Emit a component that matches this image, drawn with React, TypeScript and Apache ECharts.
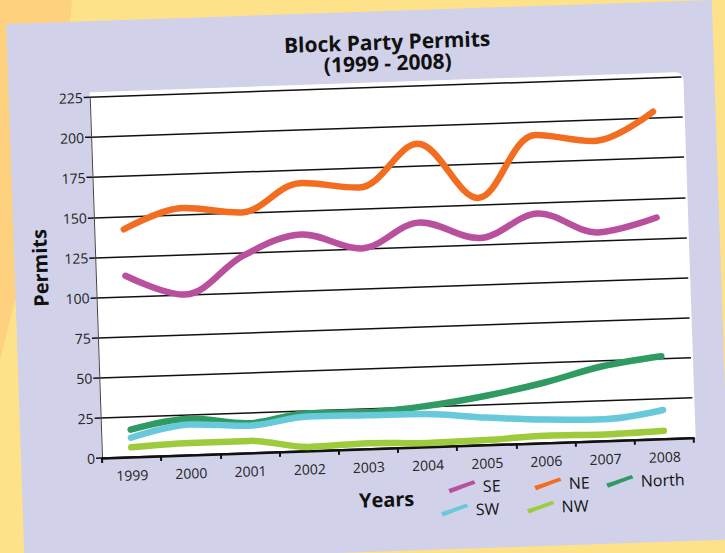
import React, { useEffect, useRef } from "react";
import * as echarts from "echarts";

const years = ["1999", "2000", "2001", "2002", "2003", "2004", "2005", "2006", "2007", "2008"];
const seData = [113, 100, 123, 135, 125, 140, 129, 143, 130, 138];
const neData = [142, 154, 150, 167, 163, 189, 154, 192, 187, 204];
const northData = [17, 22.5, 18.5, 23.5, 23, 25.5, 30.5, 37.5, 46.5, 51.5];
const swData = [12, 19, 17, 21.5, 21, 20.5, 17, 14.5, 13.5, 18];
const nwData = [6, 7.5, 7.5, 2.5, 3.5, 2.5, 3, 4.5, 4, 5];
const yMin = 0;
const yMax = 225;
const yStep = 25;

const FONT = "'Open Sans', 'DejaVu Sans', sans-serif";
const COLORS: Record<string, string> = {
  SE: "#B9509E",
  NE: "#F36D21",
  North: "#2F9A62",
  SW: "#68C9DA",
  NW: "#9DCB3B",
};
const BRUSH = "path://M0,9 C9,7 20,3 30,0 L32,4 C22,7 11,11 2,14 Z";

export default function App() {
  const ref = useRef<HTMLDivElement>(null);
  useEffect(() => {
    if (!ref.current) return;
    const chart = echarts.init(ref.current, undefined, { renderer: "svg" });
    const mkSeries = (name: string, data: number[]) => ({
      name,
      type: "line",
      data,
      smooth: 0.35,
      showSymbol: false,
      symbol: "none",
      lineStyle: { color: COLORS[name], width: 6.5, cap: "round", join: "round" },
      itemStyle: { color: COLORS[name] },
    });
    const legendBase = {
      icon: BRUSH,
      itemWidth: 32,
      itemHeight: 12,
      itemGap: 0,
      padding: 0,
      selectedMode: false,
      textStyle: { fontFamily: FONT, fontSize: 16, fontWeight: 500, color: "#111" },
    };
    chart.setOption({
      animation: false,
      backgroundColor: "transparent",
      title: {
        text: "Block Party Permits\n(1999 - 2008)",
        left: 390,
        top: 27,
        textAlign: "center",
        textStyle: { fontFamily: FONT, fontSize: 21, fontWeight: "bold", color: "#111", lineHeight: 21 },
      },
      legend: [
        { ...legendBase, data: ["SE"], left: 441, top: 482 },
        { ...legendBase, data: ["NE"], left: 527, top: 482 },
        { ...legendBase, data: ["North"], left: 599, top: 482 },
        { ...legendBase, data: ["SW"], left: 433, top: 505 },
        { ...legendBase, data: ["NW"], left: 519, top: 505 },
      ],
      grid: { left: 96, right: 37, top: 88, bottom: 104, containLabel: false },
      xAxis: {
        type: "category",
        data: years,
        boundaryGap: true,
        axisLine: { show: true, lineStyle: { color: "#111", width: 2.5 } },
        axisTick: { show: true, length: 5, interval: 0, lineStyle: { color: "#111", width: 2 } },
        axisLabel: { interval: 0, margin: 11, fontFamily: FONT, fontSize: 14, color: "#222" },
        splitLine: { show: false },
      },
      yAxis: {
        type: "value",
        min: yMin,
        max: yMax,
        interval: yStep,
        axisLine: { show: true, lineStyle: { color: "#444", width: 1 } },
        axisTick: { show: true, length: 6, lineStyle: { color: "#111", width: 1.5 } },
        axisLabel: { margin: 7, fontFamily: FONT, fontSize: 14, color: "#222" },
        splitLine: { show: true, lineStyle: { color: "#111", width: 1.5 } },
      },
      graphic: [
        {
          type: "rect",
          z: -10,
          silent: true,
          shape: { x: 15, y: 12, width: 706, height: 540 },
          style: { fill: "#D1D1E9" },
        },
        {
          type: "rect",
          z: -9,
          silent: true,
          shape: { x: 96, y: 83, width: 594, height: 366, r: [0, 8, 0, 0] },
          style: { fill: "#FFFFFF" },
        },
        {
          type: "text",
          x: 40.5,
          y: 257,
          rotation: Math.PI / 2,
          style: {
            text: "Permits",
            font: `bold 20px ${FONT}`,
            fill: "#111",
            textAlign: "center",
            textVerticalAlign: "middle",
          },
        },
        {
          type: "text",
          x: 379,
          y: 500,
          style: {
            text: "Years",
            font: `bold 20px ${FONT}`,
            fill: "#111",
            textAlign: "center",
            textVerticalAlign: "middle",
          },
        },
      ],
      series: [
        mkSeries("SE", seData),
        mkSeries("NE", neData),
        mkSeries("North", northData),
        mkSeries("SW", swData),
        mkSeries("NW", nwData),
      ],
    });
    return () => chart.dispose();
  }, []);

  return (
    <div
      style={{
        position: "fixed",
        left: 0,
        top: 0,
        width: 725,
        height: 553,
        overflow: "hidden",
        background: "#FEE28A",
      }}
    >
      <div
        style={{
          position: "absolute",
          left: 0,
          top: 0,
          width: 725,
          height: 553,
          background: "#FDD17E",
          clipPath: "polygon(0 0, 72px 0, 60px 120px, 0 360px)",
        }}
      />
      <div
        ref={ref}
        style={{
          position: "absolute",
          left: 0,
          top: 0,
          width: 725,
          height: 553,
          transform: "rotate(-1.95deg)",
          transformOrigin: "50% 50%",
        }}
      />
    </div>
  );
}
